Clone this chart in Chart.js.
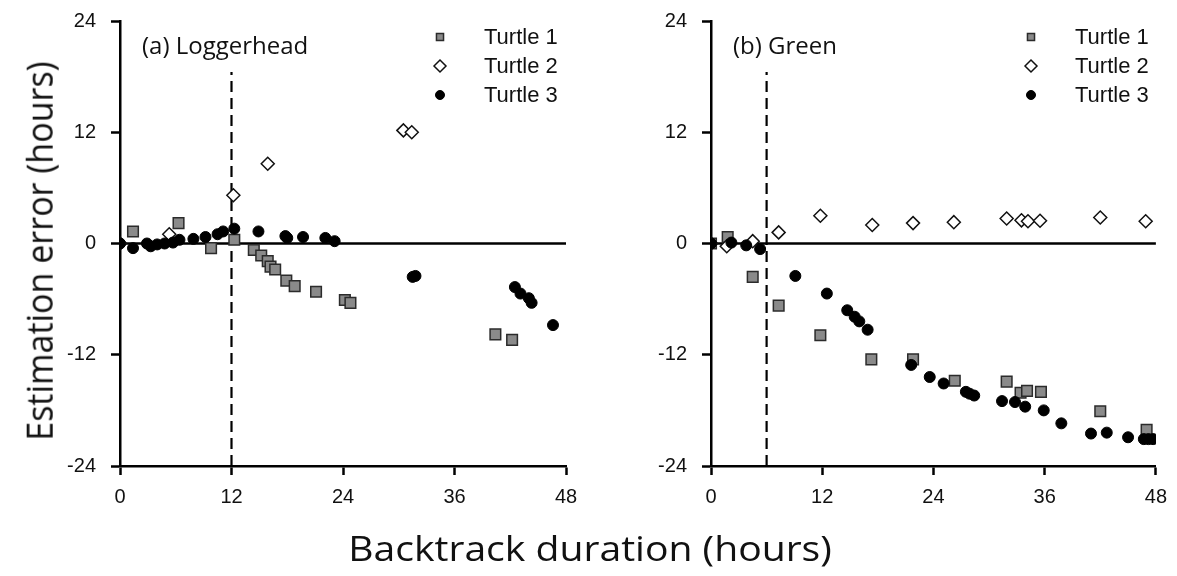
<!DOCTYPE html>
<html>
<head>
<meta charset="utf-8">
<script src="https://cdn.jsdelivr.net/npm/chart.js@4.4.1/dist/chart.umd.min.js"></script>
<style>
  body { margin: 0; background: #fff; }
  #wrap { position: relative; width: 1177px; height: 576px; overflow: hidden; }
  canvas { position: absolute; top: 0; }
  #chartA { left: 0; }
  #chartB { left: 591px; }
  .title { position: absolute; font-family: 'Open Sans', sans-serif; font-size: 34px; color: #111; white-space: nowrap; line-height: 1; }
  #xTitle { left: 590px; top: 548px; transform: translate(-50%, -50%) scaleX(1.15); }
  #yTitle { left: 38px; top: 251px; transform: translate(-50%, -50%) rotate(-90deg) scaleY(1.1); }
</style>
</head>
<body>
<div id="wrap">
  <canvas id="chartA" width="590" height="576"></canvas>
  <canvas id="chartB" width="586" height="576"></canvas>
  <div class="title" id="xTitle">Backtrack duration (hours)</div>
  <div class="title" id="yTitle">Estimation error (hours)</div>
</div>
<script>
// axis ticks (hours)
const xTicks = [0, 12, 24, 36, 48];
const yTicks = [-24, -12, 0, 12, 24];
const seriesNames = ['Turtle 1', 'Turtle 2', 'Turtle 3'];

// (a) Loggerhead
const logT1x = [1.4, 6.3, 9.8, 12.3, 14.4, 15.2, 15.9, 16.2, 16.7, 17.9, 18.8, 21.1, 24.2, 24.8, 40.4, 42.2];
const logT1y = [1.3, 2.2, -0.5, 0.4, -0.7, -1.3, -1.9, -2.5, -2.8, -4.0, -4.6, -5.2, -6.1, -6.4, -9.8, -10.4];
const logT2x = [0, 5.3, 12.2, 15.9, 30.5, 31.4];
const logT2y = [0, 1.0, 5.2, 8.6, 12.2, 12.0];
const logT3x = [0, 1.4, 2.9, 3.3, 4.0, 4.8, 5.7, 6.4, 7.9, 9.2, 10.5, 11.1, 12.3, 14.9, 17.8, 18.0, 19.7, 22.1, 23.1, 31.5, 31.8, 42.5, 43.1, 44.0, 44.3, 46.6];
const logT3y = [0, -0.5, 0, -0.3, -0.1, 0, 0.1, 0.4, 0.5, 0.7, 1.0, 1.3, 1.6, 1.3, 0.8, 0.6, 0.7, 0.6, 0.25, -3.6, -3.5, -4.7, -5.4, -5.9, -6.4, -8.8];
const logCut = 12;

// (b) Green
const grnT1x = [0, 1.8, 4.5, 7.3, 11.8, 17.3, 21.8, 26.3, 31.9, 33.4, 34.1, 35.6, 42.0, 47.0];
const grnT1y = [0, 0.7, -3.6, -6.7, -9.9, -12.5, -12.5, -14.8, -14.9, -16.1, -15.9, -16.0, -18.1, -20.1];
const grnT2x = [0, 1.7, 4.5, 7.3, 11.8, 17.4, 21.8, 26.2, 31.9, 33.5, 34.2, 35.5, 42.0, 46.9];
const grnT2y = [0, -0.3, 0.25, 1.2, 3.0, 2.0, 2.2, 2.3, 2.7, 2.5, 2.4, 2.45, 2.8, 2.4];
const grnT3x = [0, 2.2, 3.8, 5.3, 9.1, 12.5, 14.7, 15.5, 16.0, 16.9, 21.6, 23.6, 25.1, 27.5, 27.9, 28.4, 31.4, 32.8, 33.9, 35.9, 37.8, 41.0, 42.7, 45.0, 46.7, 47.2, 47.7];
const grnT3y = [0, 0.1, -0.2, -0.6, -3.5, -5.4, -7.2, -7.9, -8.4, -9.3, -13.1, -14.4, -15.1, -16.0, -16.2, -16.4, -17.0, -17.1, -17.6, -18.0, -19.4, -20.5, -20.4, -20.9, -21.1, -21.1, -21.1];
const grnCut = 6;

const cutTop = 18.5;

const styles = [
  { pointStyle: 'rect', pointRadius: 7.5, backgroundColor: '#8a8a8a', borderColor: '#2b2b2b', borderWidth: 1.5 },
  { pointStyle: 'rectRot', pointRadius: 6.5, backgroundColor: '#ffffff', borderColor: '#111111', borderWidth: 1.5 },
  { pointStyle: 'circle', pointRadius: 5.5, backgroundColor: '#000000', borderColor: '#000000', borderWidth: 1 }
];

function pts(xs, ys) {
  return xs.map((x, i) => ({ x: x, y: ys[i] }));
}

// label + legend drawn on top of each panel
const panelDeco = {
  id: 'panelDeco',
  afterDatasetsDraw(chart, args, opts) {
    const ctx = chart.ctx;
    const L = chart.chartArea.left;
    ctx.save();
    ctx.fillStyle = '#111';
    ctx.font = '24px "Open Sans"';
    ctx.textBaseline = 'middle';
    ctx.fillText(opts.label, L + 22, 47);

    const rows = [37, 66, 95];
    const sizes = [5, 6, 4.5];
    ctx.font = '22px "Liberation Sans", Arial';
    seriesNames.forEach((name, i) => {
      const st = styles[i];
      ctx.fillStyle = st.backgroundColor;
      ctx.strokeStyle = st.borderColor;
      ctx.lineWidth = st.borderWidth;
      Chart.helpers.drawPoint(ctx, { pointStyle: st.pointStyle, radius: sizes[i], rotation: 0, borderWidth: st.borderWidth }, L + 320, rows[i]);
      ctx.fillStyle = '#111';
      ctx.fillText(name, L + 364, rows[i] + 1);
    });
    ctx.restore();
  }
};

function makePanel(id, label, t1, t2, t3, cut, padRight) {
  const ds = [t1, t2, t3].map((d, i) => Object.assign({
    label: seriesNames[i],
    data: d,
    order: 3 - i
  }, styles[i]));
  ds.push({
    type: 'line', data: [{ x: 0, y: 0 }, { x: 48, y: 0 }],
    borderColor: '#000', borderWidth: 2.5, pointRadius: 0, order: 10
  });
  ds.push({
    type: 'line', data: [{ x: cut, y: -24 }, { x: cut, y: cutTop }],
    borderColor: '#000', borderWidth: 2.2, borderDash: [11, 6], pointRadius: 0, order: 11
  });

  const tickFont = { family: '"Liberation Sans", Arial', size: 20 };
  return new Chart(document.getElementById(id), {
    type: 'scatter',
    data: { datasets: ds },
    options: {
      responsive: false,
      animation: false,
      layout: { padding: { left: 0, right: padRight, top: 21, bottom: 0 } },
      plugins: { legend: { display: false }, tooltip: { enabled: false }, panelDeco: { label: label } },
      scales: {
        x: {
          type: 'linear', min: 0, max: 48,
          afterBuildTicks: (s) => { s.ticks = xTicks.map(v => ({ value: v })); },
          afterFit: (s) => { s.height = 110; },
          border: { display: true, color: '#000', width: 2.5 },
          grid: { drawOnChartArea: false, drawTicks: true, tickLength: 9, tickWidth: 2.5, tickColor: '#000' },
          ticks: { color: '#111', font: tickFont, padding: 10, maxRotation: 0 }
        },
        y: {
          type: 'linear', min: -24, max: 24,
          afterBuildTicks: (s) => { s.ticks = yTicks.map(v => ({ value: v })); },
          afterFit: (s) => { s.width = 120; s.paddingTop = 0; s.paddingBottom = 0; },
          border: { display: true, color: '#000', width: 2.5 },
          grid: { drawOnChartArea: false, drawTicks: true, tickLength: 9, tickWidth: 2.5, tickColor: '#000' },
          ticks: { color: '#111', font: tickFont, padding: 15 }
        }
      }
    },
    plugins: [panelDeco]
  });
}

makePanel('chartA', '(a) Loggerhead', pts(logT1x, logT1y), pts(logT2x, logT2y), pts(logT3x, logT3y), logCut, 24);
makePanel('chartB', '(b) Green', pts(grnT1x, grnT1y), pts(grnT2x, grnT2y), pts(grnT3x, grnT3y), grnCut, 20);
</script>
</body>
</html>
